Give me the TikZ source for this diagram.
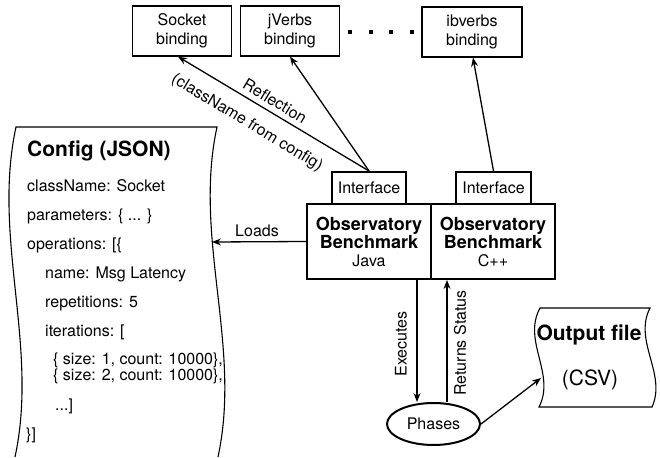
\documentclass[tikz,border=0pt]{standalone}
\usepackage{fontspec}
\setmainfont{TeX Gyre Heros}
\usetikzlibrary{arrows.meta,shapes.geometric}

\newcommand{\bigbold}[1]{{\fontsize{18}{18}\selectfont\bfseries #1}}

\tikzset{
  txt/.style={font=\fontsize{16}{19}\selectfont, inner sep=0pt},
  ctxt/.style={txt, anchor=base west},
  bindbox/.style={draw, line width=1.3pt, minimum width=99pt, minimum height=50pt,
    inner sep=0pt, align=center, font=\fontsize{16}{19}\selectfont},
  ifbox/.style={draw, line width=2pt, minimum width=74pt, minimum height=32pt,
    inner sep=0pt, font=\fontsize{16}{19}\selectfont},
  benchbox/.style={draw, line width=2pt, minimum width=124pt, minimum height=75pt,
    inner sep=0pt, align=center, font=\fontsize{16}{18}\selectfont},
  arr/.style={line width=1.3pt, -{Stealth[length=9pt,width=7pt,inset=3pt]}},
  tape/.style={line width=1.1pt},
  dotmark/.style={fill=black},
}

\begin{document}
\begin{tikzpicture}[x=1pt,y=-1pt]
\useasboundingbox (0,0) rectangle (660,457);
\fill[white] (0,0) rectangle (660,457);

% --- language bindings along the top ---
\node[bindbox] (sock) at (182,31) {Socket\\binding};
\node[bindbox] (jverbs) at (290,31) {jVerbs\\binding};
\node[bindbox, minimum width=100pt] (ibverbs) at (472,32) {ibverbs\\binding};
\foreach \dx in {350,371,391,412}
  \fill[dotmark] (\dx-2,30) rectangle (\dx+2,34);

% --- benchmark cores and their interfaces ---
\node[benchbox] (javab) at (369,241.5)
  {\bigbold{Observatory}\\\bigbold{Benchmark}\\Java};
\node[benchbox] (cppb) at (493,241.5)
  {\bigbold{Observatory}\\\bigbold{Benchmark}\\C++};
\node[ifbox] (javai) at (369,188) {Interface};
\node[ifbox, minimum width=75pt] (cppi) at (493.5,188) {Interface};

% --- config document (vertical tape) ---
\draw[tape] (15,457) .. controls (39,346) and (-8,238) .. (16,127)
  -- (217,127) .. controls (193,238) and (242,346) .. (218,457);
\coordinate (cfgin) at (212,242);
\node[ctxt, font=\fontsize{21}{24}\selectfont\bfseries] (ctitle) at (27,157) {Config (JSON)};
\node[ctxt] (c1) at (27,191) {className: Socket};
\node[ctxt] (c2) at (27,220) {parameters: \{ ... \}};
\node[ctxt] (c3) at (27,249) {operations: [\{};
\node[ctxt] (c4) at (45,278) {name: Msg Latency};
\node[ctxt] (c5) at (45,307) {repetitions: 5};
\node[ctxt] (c6) at (45,336) {iterations: [};
\node[ctxt] (c7) at (53,364) {\{ size: 1, count: 10000\},};
\node[ctxt] (c8) at (53,380) {\{ size: 2, count: 10000\},};
\node[ctxt] (c9) at (55,410) {...]};
\node[ctxt] (c10) at (26,439) {\}]};

% --- phases and output file ---
\node[ellipse, draw, line width=2pt, minimum width=93pt, minimum height=42pt,
  inner sep=0pt, font=\fontsize{16}{19}\selectfont] (phases) at (433.5,424) {Phases};
\draw[tape] (539,407) .. controls (556,374) and (522,341) .. (540,308)
  -- (650,308) .. controls (633,341) and (667,374) .. (652,407) -- cycle;
\coordinate (outin) at (541,378);
\node[txt, anchor=base, font=\fontsize{21}{24}\selectfont\bfseries] (outt) at (589,340) {Output file};
\node[txt, anchor=base, font=\fontsize{21}{24}\selectfont] (csv) at (590,385) {(CSV)};

% --- connectors ---
\draw[arr] (javai.north) -- ([xshift=-4pt]sock.south);
\draw[arr] (javai.north) -- (jverbs.south);
\draw[arr] (cppi.north) -- ([xshift=1pt]ibverbs.south);
\node[txt, rotate=-31] (refl) at (275,101) {Reflection};
\node[txt, rotate=-31] (reflsub) at (247,123) {(className from config)};

\draw[arr] (javab.west) -- (cfgin);
\node[txt] (loads) at (257,231) {Loads};

\draw[arr] ([xshift=48pt]javab.south) -- ([xshift=-16.5pt]phases.north);
\draw[arr] ([xshift=13.5pt]phases.north) -- ([xshift=-46pt]cppb.south);
\node[txt, rotate=90] (exec) at (401,344) {Executes};
\node[txt, rotate=90] (ret) at (460,343) {Returns Status};

\draw[arr] (phases.east) -- (outin);
\end{tikzpicture}
\end{document}
